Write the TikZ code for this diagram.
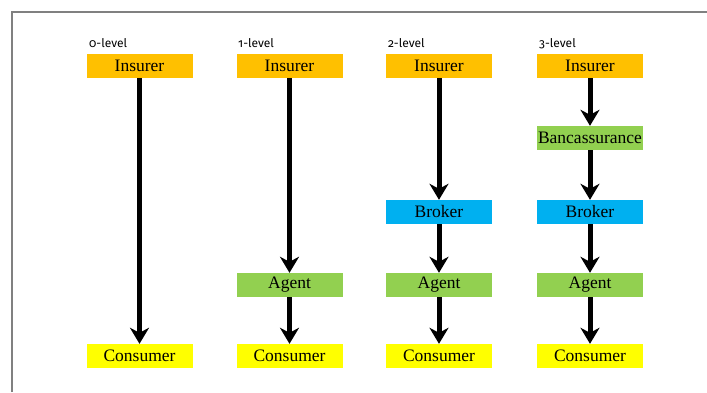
\documentclass[tikz,border=0pt]{standalone}
\usepackage{fontspec}
\setmainfont{Liberation Serif}
\newfontfamily\lvlfont[Numbers=OldStyle]{Fira Sans}
\usepackage{tikz}
\usetikzlibrary{arrows.meta}
\usetikzlibrary{positioning}
\definecolor{insorange}{HTML}{FFC000}
\definecolor{agtgreen}{HTML}{92D050}
\definecolor{brkblue}{HTML}{00B0F0}
\definecolor{conyellow}{HTML}{FFFF00}

\begin{document}
\begin{tikzpicture}[x=1pt,y=-1pt,
		box/.style={
			minimum width=106pt,
			minimum height=24pt,
			inner sep=0pt,
			font=\fontsize{17.5}{18}\selectfont,
		},
		lvl/.style={anchor=base west, inner sep=0pt, font=\lvlfont\fontsize{12}{12}\selectfont},
		flow/.style={-{Stealth[length=16pt,width=19pt,inset=5pt]}, line width=5pt}]
		\useasboundingbox (0,0) rectangle (707,392);
		\draw[gray, line width=1.6pt] (12,392) -- (12,12) -- (707,12);
		
		% 0-level
		\node[lvl] (lvl0) at (89,47.5) {0-level};
		\node[box, fill=insorange] (ins0) at (139.5,66) {Insurer};
		\node[box, fill=conyellow] (con0) at (139.5,356) {Consumer};
		\draw[flow] (ins0.south) -- (con0.north);
		
		% 1-level
		\node[lvl] (lvl1) at (238,47.5) {1-level};
		\node[box, fill=insorange] (ins1) at (289.5,66) {Insurer};
		\node[box, fill=agtgreen] (agt1) at (289.5,285) {Agent};
		\node[box, fill=conyellow] (con1) at (289.5,356) {Consumer};
		\draw[flow] (ins1.south) -- (agt1.north);
		\draw[flow] (agt1.south) -- (con1.north);
		
		% 2-level
		\node[lvl] (lvl2) at (388,47.5) {2-level};
		\node[box, fill=insorange] (ins2) at (439,66) {Insurer};
		\node[box, fill=brkblue] (brk2) at (439,212) {Broker};
		\node[box, fill=agtgreen] (agt2) at (439,285) {Agent};
		\node[box, fill=conyellow] (con2) at (439,356) {Consumer};
		\draw[flow] (ins2.south) -- (brk2.north);
		\draw[flow] (brk2.south) -- (agt2.north);
		\draw[flow] (agt2.south) -- (con2.north);
		
		% 3-level
		\node[lvl] (lvl3) at (539,47.5) {3-level};
		\node[box, fill=insorange] (ins3) at (590,66) {Insurer};
		\node[box, fill=agtgreen] (ban3) at (590,138) {Bancassurance};
		\node[box, fill=brkblue] (brk3) at (590,212) {Broker};
		\node[box, fill=agtgreen] (agt3) at (590,285) {Agent};
		\node[box, fill=conyellow] (con3) at (590,356) {Consumer};
		\draw[flow] (ins3.south) -- (ban3.north);
		\draw[flow] (ban3.south) -- (brk3.north);
		\draw[flow] (brk3.south) -- (agt3.north);
		\draw[flow] (agt3.south) -- (con3.north);
	\end{tikzpicture}
\end{document}
